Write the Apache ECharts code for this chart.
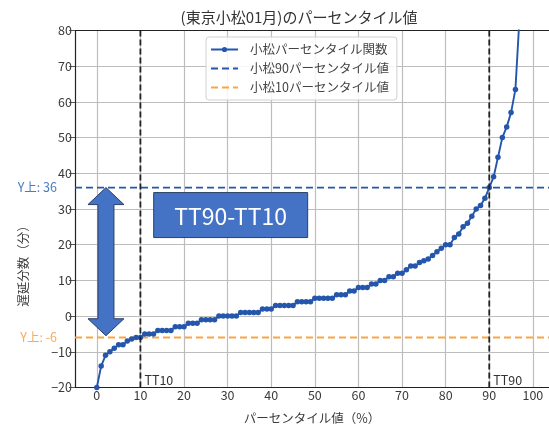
<!DOCTYPE html>
<html><head><meta charset="utf-8">
<script src="https://cdn.jsdelivr.net/npm/echarts@6/dist/echarts.min.js"></script>
<style>html,body{margin:0;padding:0;background:#fff}#c{width:549px;height:428px}</style>
</head><body><div id="c"></div>
<script>
// ---- data ----
const percentiles = [0,1,2,3,4,5,6,7,8,9,10,11,12,13,14,15,16,17,18,19,20,21,22,23,24,25,26,27,28,29,30,31,32,33,34,35,36,37,38,39,40,41,42,43,44,45,46,47,48,49,50,51,52,53,54,55,56,57,58,59,60,61,62,63,64,65,66,67,68,69,70,71,72,73,74,75,76,77,78,79,80,81,82,83,84,85,86,87,88,89,90,91,92,93,94,95,96,97,98,99,100];
const delays = [-20,-14,-11,-10,-9,-8,-8,-7,-6.4,-6,-6,
  -5,-5,-5,-4,-4,-4,-4,-3,-3,-3,
  -2,-2,-2,-1,-1,-1,-1,0,0,0,
  0,0,1,1,1,1,1,2,2,2,
  3,3,3,3,3,4,4,4,4,5,
  5,5,5,5,6,6,6,7,7,8,
  8,8,9,9,10,10,11,11,12,12,
  13,14,14,15,15.5,16,17,18,19,20,
  20,22,23,25,26,28,30,31,33,36,
  39,44.5,50,53,57,63.5,85,100,130,200];
const xTicks = [0,10,20,30,40,50,60,70,80,90,100];
const tt90 = 36;
const tt10 = -6;
const ttX = [10, 90];
const ttLabels = ['TT10', 'TT90'];
const yLevelLabels = ['Y上: 36', 'Y上: -6'];
const seriesNames = ['小松パーセンタイル関数', '小松90パーセンタイル値', '小松10パーセンタイル値'];
const titleText = '(東京小松01月)のパーセンタイル値';
const xName = 'パーセンタイル値（%）';
const yName = '遅延分数（分）';
const boxText = 'TT90-TT10';

// ---- layout / style ----
const X_MIN = -5, X_MAX = 103.7, Y_MIN = -20, Y_MAX = 80;
const FONT = "'Noto Sans CJK JP', 'Noto Sans', sans-serif";
const BLUE = '#2456ac';
const ORANGE = '#fba542';
const GRID = '#bdbdbd';

const chart = echarts.init(document.getElementById('c'), null, {renderer: 'canvas'});
const curve = percentiles.map((p, i) => [p, delays[i]]);

const option = {
  animation: false,
  backgroundColor: '#fff',
  grid: {left: 75, right: 0, top: 30.5, bottom: 40.5},
  legend: {
    data: [
      {name: seriesNames[0]},
      {name: seriesNames[1], itemStyle: {opacity: 0}},
      {name: seriesNames[2], itemStyle: {opacity: 0}}
    ],
    orient: 'vertical', left: 206, top: 37,
    itemWidth: 27, itemHeight: 6.5, itemGap: 4,
    padding: [5, 8, 5, 4],
    backgroundColor: 'rgba(255,255,255,0.85)', borderColor: '#d0d0d0', borderWidth: 1, borderRadius: 3,
    textStyle: {fontSize: 12.5, lineHeight: 15, color: '#444', fontFamily: FONT, padding: [0, 0, 0, 7]}
  },
  xAxis: [{
    type: 'value', min: X_MIN, max: X_MAX,
    axisLine: {show: true, onZero: false, lineStyle: {color: '#222', width: 1.2}},
    axisTick: {show: false, customValues: xTicks},
    axisLabel: {customValues: xTicks, margin: 1, fontSize: 12.5, color: '#3a3a3a', fontFamily: FONT},
    splitLine: {show: true, lineStyle: {color: GRID, width: 1.2}}
  }, {
    type: 'value', position: 'top', min: X_MIN, max: X_MAX,
    axisLine: {show: true, onZero: false, lineStyle: {color: '#222', width: 1.2}},
    axisTick: {show: false}, axisLabel: {show: false}, splitLine: {show: false}
  }],
  yAxis: {
    type: 'value', min: Y_MIN, max: Y_MAX, interval: 10,
    axisLine: {show: true, onZero: false, lineStyle: {color: '#222', width: 1.2}},
    axisTick: {show: true, length: 6, lineStyle: {color: '#555'}},
    axisLabel: {margin: 3, fontSize: 12.5, color: '#3a3a3a', fontFamily: FONT,
      formatter: v => v < 0 ? '\u2212' + (-v) : String(v)},
    splitLine: {show: true, showMinLine: false, showMaxLine: false, lineStyle: {color: GRID, width: 1.2}}
  },
  series: [
    {
      name: seriesNames[0], type: 'line', data: curve, z: 5,
      symbol: 'circle', symbolSize: 5.5, showAllSymbol: true,
      itemStyle: {color: BLUE}, lineStyle: {color: BLUE, width: 1.9}, clip: true
    },
    {
      name: seriesNames[1], type: 'line', z: 3, symbol: 'none',
      data: [[X_MIN, tt90], [X_MAX, tt90]],
      itemStyle: {color: BLUE}, lineStyle: {color: BLUE, width: 1.8, type: [7, 4]}
    },
    {
      name: seriesNames[2], type: 'line', z: 3, symbol: 'none',
      data: [[X_MIN, tt10], [X_MAX, tt10]],
      itemStyle: {color: ORANGE}, lineStyle: {color: ORANGE, width: 1.8, type: [7, 4]}
    },
    {
      name: 'tt10v', type: 'line', z: 6, symbol: 'none',
      data: [[ttX[0], Y_MIN], [ttX[0], Y_MAX]],
      lineStyle: {color: '#222', width: 1.8, type: [6, 3]}
    },
    {
      name: 'tt90v', type: 'line', z: 6, symbol: 'none',
      data: [[ttX[1], Y_MIN], [ttX[1], Y_MAX]],
      lineStyle: {color: '#222', width: 1.8, type: [6, 3]}
    }
  ]
};
chart.setOption(option);

// ---- annotations positioned through the grid's scales ----
const px = (x, y) => chart.convertToPixel({gridIndex: 0}, [x, y]);
const g = [];
g.push({type: 'text', x: 299, y: 17, style: {text: titleText, font: '15px ' + FONT, fill: '#333', align: 'center', verticalAlign: 'middle'}});
g.push({type: 'text', x: 312, y: 418, style: {text: xName, font: '12.5px ' + FONT, fill: '#3a3a3a', align: 'center', verticalAlign: 'middle'}});
g.push({type: 'text', x: 23.5, y: 263, rotation: Math.PI / 2, style: {text: yName, font: '12.5px ' + FONT, fill: '#3a3a3a', align: 'center', verticalAlign: 'middle'}});
const p90 = px(X_MIN, tt90), p10 = px(X_MIN, tt10);
g.push({type: 'text', x: p90[0] - 18, y: p90[1], style: {text: yLevelLabels[0], font: '12.5px ' + FONT, fill: '#4a7cc4', align: 'right', verticalAlign: 'middle'}});
g.push({type: 'text', x: p10[0] - 18, y: p10[1], style: {text: yLevelLabels[1], font: '12.5px ' + FONT, fill: '#f7ab5c', align: 'right', verticalAlign: 'middle'}});
ttX.forEach((v, i) => {
  const p = px(v, -18);
  g.push({type: 'text', x: p[0] + 4, y: p[1], z: 20, style: {text: ttLabels[i], font: '12.5px ' + FONT, fill: '#333', align: 'left', verticalAlign: 'middle'}});
});
const arrowX = 2.1, arrowBottom = -5.5;
const aT = px(arrowX, tt90), aB = px(arrowX, arrowBottom);
const cx = aT[0], yT = aT[1], yB = aB[1], hw = 18, hl = 17, sw = 8;
g.push({type: 'polygon', z: 20, shape: {points: [
  [cx, yT], [cx + hw, yT + hl], [cx + sw, yT + hl], [cx + sw, yB - hl], [cx + hw, yB - hl],
  [cx, yB], [cx - hw, yB - hl], [cx - sw, yB - hl], [cx - sw, yT + hl], [cx - hw, yT + hl]
]}, style: {fill: '#4472c4', stroke: '#2c3f66', lineWidth: 1}});
const bc = px(30.7, 28.3);
g.push({type: 'rect', z: 20, shape: {x: bc[0] - 77, y: bc[1] - 22.5, width: 154, height: 45}, style: {fill: '#4472c4', stroke: '#2c3f66', lineWidth: 1}});
g.push({type: 'text', z: 21, x: bc[0], y: bc[1] + 1, style: {text: boxText, font: '23px ' + FONT, fill: '#fff', align: 'center', verticalAlign: 'middle'}});
chart.setOption({graphic: g});
</script>
</body></html>
